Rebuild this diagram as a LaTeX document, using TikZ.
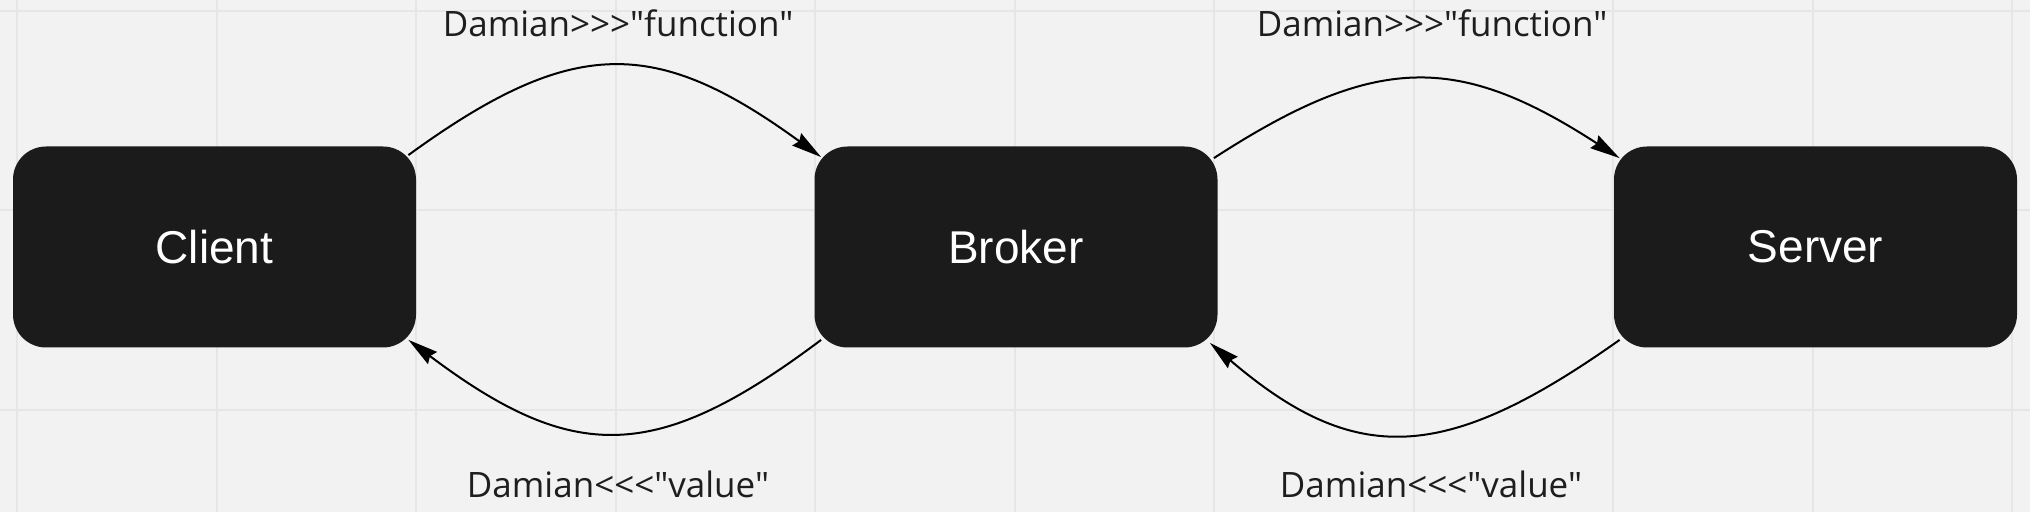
\documentclass[tikz,border=0pt]{standalone}
\usepackage{fontspec}
\setmainfont{Open Sans}[Ligatures=TeXOff]
\newfontfamily\boxfont{Liberation Sans}
\usetikzlibrary{arrows.meta}
\definecolor{paper}{HTML}{F2F2F2}
\definecolor{gridline}{HTML}{E6E6E6}
\definecolor{boxfill}{HTML}{1B1B1B}
\definecolor{ink}{HTML}{1E1E1E}
\tikzset{
  agent/.style={draw=none, fill=boxfill, shape=rectangle, rounded corners=16.5pt,
    minimum width=201.5pt, minimum height=100.5pt, text=white, font=\boxfont\fontsize{23pt}{27pt}\selectfont},
  msg/.style={anchor=base, text=ink, inner sep=0pt, font=\fontsize{17.5pt}{21pt}\selectfont},
  flow/.style={draw=black, line width=1pt, -{Stealth[length=15pt,width=7.5pt,inset=1.5pt]}}
}
\begin{document}
\begin{tikzpicture}[x=0.5pt,y=-0.5pt]
\useasboundingbox (0,0) rectangle (2030,512);
\fill[paper] (0,0) rectangle (2030,512);
\foreach \gx in {17,216.5,...,2030} \draw[gridline, line width=1pt] (\gx,0) -- (\gx,512);
\foreach \gy in {11,210.5,409.9} \draw[gridline, line width=1pt] (0,\gy) -- (2030,\gy);
\draw (214.5,247) node[agent] (client) {Client};
\draw (1016,247) node[agent] (broker) {Broker};
\draw (1815.5,247) node[agent] (server) {Server};
\draw (618,37) node[msg] (callA) {Damian>>>"function"};
\draw (1432,37) node[msg] (callB) {Damian>>>"function"};
\draw (618,498) node[msg] (backA) {Damian<<<"value"};
\draw (1431,498) node[msg] (backB) {Damian<<<"value"};
\draw[flow] ([shift={(-8,9)}]client.north east) .. controls +(165,-120) and +(-165,-120) .. ([shift={(7,11)}]broker.north west);
\draw[flow] ([shift={(7,-8)}]broker.south west) .. controls +(-165,124) and +(165,124) .. ([shift={(-8,-8)}]client.south east);
\draw[flow] ([shift={(-4,12)}]broker.north east) .. controls +(162,-105) and +(-162,-105) .. ([shift={(6,12)}]server.north west);
\draw[flow] ([shift={(6,-8)}]server.south west) .. controls +(-175,124) and +(145,124) .. ([shift={(-8,-5)}]broker.south east);
\end{tikzpicture}
\end{document}
